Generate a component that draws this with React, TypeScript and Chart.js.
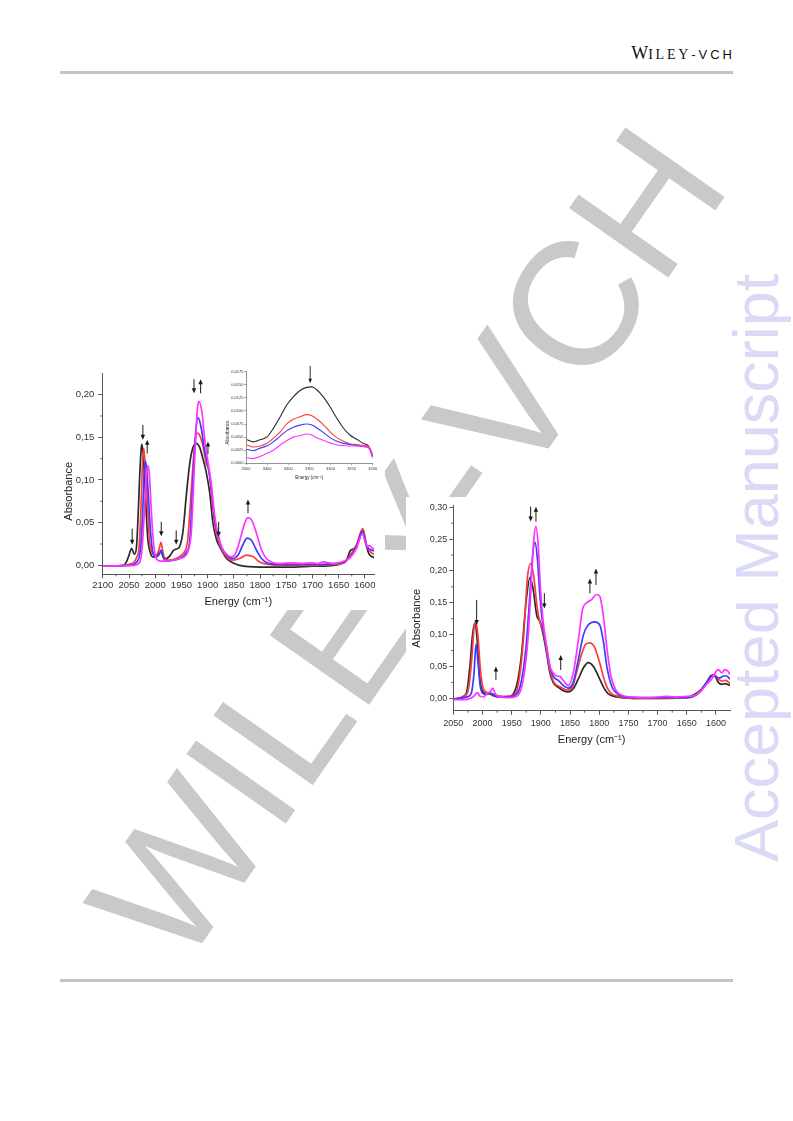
import React, { useEffect, useRef } from "react";
import { Chart, registerables } from "chart.js";
Chart.register(...registerables);

// ---------------- LEFT CHART DATA ----------------
const LEFT_X_TICKS = [2100, 2050, 2000, 1950, 1900, 1850, 1800, 1750, 1700, 1650, 1600];
const LEFT_X_MINOR = [2075, 2025, 1975, 1925, 1875, 1825, 1775, 1725, 1675, 1625];
const LEFT_Y_TICKS = [0, 0.05, 0.1, 0.15, 0.2];
const LEFT_Y_MINOR = [0.025, 0.075, 0.125, 0.175];

const L_BLACK_X = [2100, 2080, 2060, 2055, 2050, 2045, 2040, 2036, 2032.5, 2030, 2027, 2025.5, 2023, 2020, 2017, 2014, 2009.5, 2004.5, 1998, 1993, 1989, 1985, 1979, 1971, 1966, 1960, 1953.5, 1947, 1941, 1934, 1928, 1922, 1915, 1909, 1903, 1896, 1890, 1883, 1877, 1871, 1864, 1852, 1839, 1800, 1750, 1700, 1660, 1645, 1635, 1628, 1620, 1612, 1604, 1598, 1592, 1586, 1582];
const L_BLACK_Y = [-0.001, -0.001, 0.0, 0.004, 0.012, 0.02, 0.013, 0.02, 0.06, 0.1, 0.135, 0.142, 0.13, 0.1, 0.06, 0.03, 0.015, 0.01, 0.01, 0.014, 0.016, 0.01, 0.008, 0.012, 0.017, 0.019, 0.022, 0.04, 0.08, 0.12, 0.138, 0.143, 0.138, 0.125, 0.11, 0.085, 0.05, 0.03, 0.022, 0.015, 0.008, 0.003, 0.0, -0.002, -0.002, -0.001, 0.0, 0.002, 0.006, 0.017, 0.02, 0.028, 0.041, 0.025, 0.013, 0.01, 0.009];

const L_RED_X = [2100, 2060, 2045, 2040, 2035, 2031, 2027, 2025, 2022, 2020, 2017, 2014, 2011, 2006, 1999, 1993, 1989, 1986, 1982, 1973, 1960, 1950, 1941, 1938, 1931, 1925, 1920, 1915, 1909, 1903, 1897, 1893, 1887, 1880, 1874, 1864, 1852, 1839, 1826, 1813, 1801, 1782, 1750, 1700, 1660, 1640, 1628, 1616, 1604, 1596, 1588, 1582];
const L_RED_Y = [-0.001, 0.0, 0.002, 0.004, 0.01, 0.02, 0.07, 0.11, 0.137, 0.125, 0.1, 0.06, 0.03, 0.015, 0.012, 0.018, 0.027, 0.018, 0.008, 0.006, 0.008, 0.012, 0.02, 0.03, 0.09, 0.14, 0.155, 0.152, 0.14, 0.12, 0.11, 0.085, 0.05, 0.03, 0.02, 0.01, 0.006, 0.008, 0.012, 0.01, 0.004, 0.001, 0.0, 0.0, 0.001, 0.003, 0.012, 0.024, 0.043, 0.022, 0.015, 0.013];

const L_BLUE_X = [2100, 2050, 2035, 2028, 2024, 2021, 2018.5, 2016, 2013, 2009, 2004.5, 1998, 1993, 1989, 1985, 1979, 1966, 1953.5, 1941, 1934, 1928, 1923, 1918, 1912, 1906, 1899, 1893, 1887, 1880, 1874, 1864, 1852, 1842, 1832, 1825, 1816, 1807, 1797, 1782, 1750, 1700, 1660, 1640, 1628, 1616, 1605, 1596, 1588, 1582];
const L_BLUE_Y = [-0.001, 0.0, 0.004, 0.02, 0.06, 0.11, 0.122, 0.11, 0.08, 0.04, 0.015, 0.01, 0.012, 0.018, 0.01, 0.005, 0.006, 0.008, 0.015, 0.03, 0.1, 0.155, 0.173, 0.16, 0.135, 0.115, 0.09, 0.055, 0.035, 0.022, 0.012, 0.008, 0.012, 0.025, 0.032, 0.029, 0.018, 0.008, 0.002, 0.001, 0.001, 0.002, 0.004, 0.01, 0.022, 0.04, 0.022, 0.018, 0.017];

const L_MAG_X = [2100, 2040, 2030, 2025, 2021, 2017, 2014, 2011, 2008, 2004.5, 2000, 1995, 1988.5, 1979, 1966, 1953.5, 1941, 1934, 1931, 1925, 1920, 1917, 1911, 1906, 1899, 1893, 1887, 1880, 1874, 1864, 1855, 1846, 1836, 1829, 1823, 1816, 1807, 1797, 1788, 1775, 1760, 1740, 1720, 1700, 1690, 1680, 1660, 1650, 1640, 1628, 1616, 1605, 1596, 1591, 1586, 1582];
const L_MAG_Y = [-0.001, 0.0, 0.003, 0.02, 0.06, 0.105, 0.117, 0.105, 0.07, 0.035, 0.012, 0.006, 0.005, 0.005, 0.006, 0.008, 0.012, 0.025, 0.04, 0.12, 0.18, 0.192, 0.18, 0.15, 0.12, 0.095, 0.06, 0.035, 0.022, 0.013, 0.01, 0.015, 0.035, 0.05, 0.056, 0.053, 0.038, 0.018, 0.008, 0.003, 0.002, 0.003, 0.002, 0.003, 0.002, 0.004, 0.002, 0.003, 0.005, 0.009, 0.02, 0.037, 0.022, 0.023, 0.02, 0.019];

const L_ARROW_X = [2044, 2023.6, 2015.3, 1988.5, 1960, 1926, 1913.4, 1899.4, 1879, 1823];
const L_ARROW_FROM = [0.043, 0.1645, 0.131, 0.051, 0.041, 0.218, 0.2016, 0.1305, 0.051, 0.061];
const L_ARROW_TO = [0.024, 0.147, 0.147, 0.034, 0.024, 0.2016, 0.218, 0.145, 0.0336, 0.077];

// ---------------- INSET DATA ----------------
const INSET_X_TICKS = [3500, 3450, 3400, 3350, 3300, 3250, 3200];
const INSET_Y_TICKS = [0, 0.0025, 0.005, 0.0075, 0.01, 0.0125, 0.015, 0.0175];
const INSET_X = [3498, 3483, 3467, 3451, 3435, 3419, 3404, 3388, 3372, 3356, 3344, 3333, 3317, 3301, 3285, 3269, 3254, 3238, 3222, 3210, 3200];
const INSET_BLACK = [0.0045, 0.0041, 0.0045, 0.005, 0.0067, 0.0089, 0.0111, 0.0127, 0.0139, 0.0145, 0.0146, 0.0141, 0.0127, 0.0108, 0.0086, 0.0067, 0.0054, 0.0046, 0.0038, 0.0033, 0.0013];
const INSET_RED = [0.0035, 0.0031, 0.0033, 0.0038, 0.0048, 0.006, 0.0075, 0.0084, 0.0089, 0.0093, 0.0091, 0.0085, 0.0074, 0.006, 0.0049, 0.0042, 0.0037, 0.0036, 0.0034, 0.0032, 0.0017];
const INSET_BLUE = [0.0027, 0.0024, 0.0029, 0.0033, 0.0041, 0.0052, 0.0062, 0.0069, 0.0073, 0.0075, 0.0073, 0.0068, 0.0059, 0.0049, 0.0042, 0.0038, 0.0036, 0.0034, 0.0032, 0.003, 0.0013];
const INSET_MAG = [0.0011, 0.0009, 0.0013, 0.0019, 0.0025, 0.0035, 0.0043, 0.005, 0.0053, 0.0056, 0.0054, 0.0049, 0.0044, 0.0039, 0.0035, 0.0034, 0.0033, 0.0033, 0.0032, 0.003, 0.001];
const INSET_ARROW_X = [3348];
const INSET_ARROW_FROM = [0.0186];
const INSET_ARROW_TO = [0.0153];

// ---------------- RIGHT CHART DATA ----------------
const RIGHT_X_TICKS = [2050, 2000, 1950, 1900, 1850, 1800, 1750, 1700, 1650, 1600];
const RIGHT_X_MINOR = [2025, 1975, 1925, 1875, 1825, 1775, 1725, 1675, 1625];
const RIGHT_Y_TICKS = [0, 0.05, 0.1, 0.15, 0.2, 0.25, 0.3];
const RIGHT_Y_MINOR = [0.025, 0.075, 0.125, 0.175, 0.225, 0.275];

const R_BLACK_X = [2050, 2033, 2027, 2021.5, 2017, 2013, 2009, 2005.5, 2001.5, 1996, 1987, 1981.5, 1970, 1953, 1941.5, 1933, 1925.5, 1918.5, 1913, 1907, 1901.5, 1896, 1890, 1884.5, 1879, 1870, 1861.5, 1853, 1844.5, 1836, 1827, 1819, 1810, 1801.5, 1793, 1784.5, 1770, 1741.5, 1685, 1650, 1639, 1627.5, 1616, 1607.5, 1602, 1596, 1590, 1585, 1576];
const R_BLACK_Y = [-0.002, 0.003, 0.01, 0.05, 0.1, 0.118, 0.09, 0.04, 0.015, 0.008, 0.007, 0.004, 0.002, 0.003, 0.02, 0.07, 0.15, 0.19, 0.17, 0.13, 0.12, 0.1, 0.07, 0.04, 0.025, 0.017, 0.012, 0.01, 0.015, 0.03, 0.048, 0.056, 0.05, 0.035, 0.018, 0.007, 0.002, 0.0, 0.0, 0.001, 0.005, 0.012, 0.025, 0.036, 0.035, 0.025, 0.022, 0.023, 0.02];

const R_RED_X = [2050, 2030, 2024, 2018.5, 2014.5, 2011, 2008, 2004, 2000, 1994, 1987, 1978.5, 1964, 1947, 1939, 1930, 1923, 1917, 1912, 1906, 1901.5, 1896, 1890, 1884.5, 1877.5, 1867, 1856, 1847, 1839, 1830, 1823, 1816, 1808, 1799, 1790, 1782, 1767.5, 1741.5, 1650, 1633, 1619, 1607.5, 1602, 1596, 1590, 1583, 1576];
const R_RED_Y = [-0.001, 0.004, 0.015, 0.06, 0.11, 0.12, 0.1, 0.05, 0.02, 0.01, 0.008, 0.005, 0.003, 0.005, 0.02, 0.09, 0.19, 0.212, 0.19, 0.14, 0.12, 0.105, 0.075, 0.045, 0.025, 0.018, 0.013, 0.016, 0.04, 0.07, 0.085, 0.087, 0.08, 0.055, 0.025, 0.01, 0.003, 0.0, 0.001, 0.006, 0.02, 0.035, 0.037, 0.03, 0.027, 0.028, 0.023];

const R_BLUE_X = [2050, 2024, 2018.5, 2014.5, 2011, 2008, 2004, 1998.5, 1993, 1987, 1981.5, 1976, 1958.5, 1944, 1935, 1925.5, 1917.5, 1913, 1910, 1906, 1901.5, 1896, 1890, 1884.5, 1879, 1870, 1861.5, 1853, 1844.5, 1836, 1827, 1819, 1808, 1799, 1793, 1787, 1779, 1767.5, 1741.5, 1650, 1639, 1627.5, 1616, 1606, 1599, 1593, 1587.5, 1582, 1576];
const R_BLUE_Y = [-0.001, 0.003, 0.01, 0.04, 0.085, 0.06, 0.02, 0.007, 0.006, 0.008, 0.006, 0.003, 0.002, 0.005, 0.02, 0.08, 0.18, 0.235, 0.245, 0.22, 0.16, 0.11, 0.08, 0.05, 0.035, 0.028, 0.02, 0.016, 0.025, 0.06, 0.1, 0.115, 0.12, 0.115, 0.09, 0.05, 0.02, 0.006, 0.001, 0.001, 0.003, 0.01, 0.025, 0.036, 0.033, 0.032, 0.035, 0.035, 0.03];

const R_MAG_X = [2050, 2030, 2018.5, 2013, 2009, 2004, 1998.5, 1992, 1987, 1982.5, 1978.5, 1973, 1953, 1939, 1930, 1921.5, 1916, 1912, 1908.5, 1904.5, 1900.5, 1896, 1890, 1884.5, 1879, 1873, 1867, 1861.5, 1853, 1844.5, 1836, 1828.5, 1821.5, 1813, 1804.5, 1799, 1793, 1787, 1780, 1771, 1759, 1741.5, 1720, 1700, 1685, 1670, 1650, 1639, 1627.5, 1616, 1607.5, 1600, 1596, 1590, 1585, 1579, 1576];
const R_MAG_Y = [-0.002, -0.002, 0.001, 0.005, 0.009, 0.003, 0.002, 0.008, 0.01, 0.016, 0.008, 0.003, 0.001, 0.005, 0.03, 0.1, 0.19, 0.25, 0.27, 0.24, 0.17, 0.12, 0.08, 0.05, 0.04, 0.035, 0.034, 0.028, 0.02, 0.04, 0.09, 0.14, 0.15, 0.155, 0.163, 0.16, 0.13, 0.08, 0.035, 0.012, 0.004, 0.002, 0.001, 0.002, 0.003, 0.002, 0.003, 0.004, 0.01, 0.022, 0.03, 0.042, 0.045, 0.04, 0.045, 0.042, 0.037];

const R_ARROW_X = [2010, 1977, 1917.5, 1908.4, 1894, 1866, 1816, 1805.6];
const R_ARROW_FROM = [0.1545, 0.029, 0.301, 0.2775, 0.165, 0.0445, 0.165, 0.178];
const R_ARROW_TO = [0.115, 0.05, 0.2775, 0.301, 0.141, 0.068, 0.188, 0.204];

const X_TITLE = "Energy (cm\u207B\u00B9)";
const Y_TITLE = "Absorbance";

// ---------------- STYLE ----------------
const COL_BLACK = "#2a2a2a";
const COL_RED = "#ff3c3c";
const COL_BLUE = "#3c3cff";
const COL_MAG = "#ff33ff";
const FONT = "'Liberation Sans', Arial, sans-serif";

type Spec = {
  series: { xs: number[]; ys: number[]; color: string }[];
  xMin: number; xMax: number; yMin: number; yMax: number;
  xTicks: number[]; yTicks: number[]; xMinor: number[]; yMinor: number[];
  decimals: number; tickFont: number; titleFont: number;
  tickLen: number; minorLen: number; axisColor: string; axisWidth: number;
  padTop: number; padRight: number; yWidth: number; xHeight: number;
  xLabelPad: number; yLabelPad: number; xTitlePad: number;
  yTitleX: number; yTitleShift: number;
  lineWidth: number;
  arrowX: number[]; arrowFrom: number[]; arrowTo: number[];
  headLen: number; headHalf: number; arrowWidth: number;
};

function makeExtras(s: Spec) {
  return {
    id: "extras",
    afterDraw(chart: any) {
      const { ctx, chartArea, scales } = chart;
      const xs = scales.x;
      const ys = scales.y;
      ctx.save();
      // minor ticks
      ctx.strokeStyle = s.axisColor;
      ctx.lineWidth = s.axisWidth;
      ctx.beginPath();
      for (const v of s.xMinor) {
        const px = xs.getPixelForValue(v);
        ctx.moveTo(px, chartArea.bottom);
        ctx.lineTo(px, chartArea.bottom + s.minorLen);
      }
      for (const v of s.yMinor) {
        const py = ys.getPixelForValue(v);
        ctx.moveTo(chartArea.left, py);
        ctx.lineTo(chartArea.left - s.minorLen, py);
      }
      ctx.stroke();
      // y-axis title
      ctx.save();
      ctx.translate(s.yTitleX, (chartArea.top + chartArea.bottom) / 2 + s.yTitleShift);
      ctx.rotate(-Math.PI / 2);
      ctx.fillStyle = "#222";
      ctx.font = `${s.titleFont}px ${FONT}`;
      ctx.textAlign = "center";
      ctx.textBaseline = "middle";
      ctx.fillText(Y_TITLE, 0, 0);
      ctx.restore();
      // arrows
      ctx.strokeStyle = "#1a1a1a";
      ctx.fillStyle = "#1a1a1a";
      ctx.lineWidth = s.arrowWidth;
      s.arrowX.forEach((ax, i) => {
        const px = xs.getPixelForValue(ax);
        const p0 = ys.getPixelForValue(s.arrowFrom[i]);
        const p1 = ys.getPixelForValue(s.arrowTo[i]);
        const dir = p1 > p0 ? 1 : -1;
        ctx.beginPath();
        ctx.moveTo(px, p0);
        ctx.lineTo(px, p1 - dir * s.headLen * 0.6);
        ctx.stroke();
        ctx.beginPath();
        ctx.moveTo(px, p1);
        ctx.lineTo(px - s.headHalf, p1 - dir * s.headLen);
        ctx.lineTo(px + s.headHalf, p1 - dir * s.headLen);
        ctx.closePath();
        ctx.fill();
      });
      ctx.restore();
    },
  };
}

function makeConfig(s: Spec): any {
  const fmtY = (v: any) => Number(v).toFixed(s.decimals).replace(".", ",");
  return {
    type: "line",
    data: {
      datasets: s.series.map((ser) => ({
        data: ser.xs.map((x, i) => ({ x, y: ser.ys[i] })),
        borderColor: ser.color,
        borderWidth: s.lineWidth,
        pointRadius: 0,
        fill: false,
        cubicInterpolationMode: "monotone",
      })),
    },
    options: {
      animation: false,
      responsive: false,
      devicePixelRatio: 1,
      events: [],
      layout: { padding: { top: s.padTop, right: s.padRight, left: 0, bottom: 0 } },
      plugins: { legend: { display: false }, tooltip: { enabled: false } },
      scales: {
        x: {
          type: "linear",
          reverse: true,
          min: s.xMin,
          max: s.xMax,
          afterBuildTicks: (sc: any) => { sc.ticks = s.xTicks.map((v) => ({ value: v })); },
          afterFit: (sc: any) => { sc.height = s.xHeight; },
          grid: { display: true, drawOnChartArea: false, drawTicks: true, tickLength: s.tickLen, color: s.axisColor, lineWidth: s.axisWidth },
          border: { display: true, color: s.axisColor, width: s.axisWidth },
          ticks: { color: "#333", font: { family: FONT, size: s.tickFont }, padding: s.xLabelPad, maxRotation: 0, autoSkip: false, callback: (v: any) => String(v) },
          title: { display: true, text: X_TITLE, color: "#222", font: { family: FONT, size: s.titleFont }, padding: { top: 0, bottom: s.xTitlePad } },
        },
        y: {
          type: "linear",
          min: s.yMin,
          max: s.yMax,
          afterBuildTicks: (sc: any) => { sc.ticks = s.yTicks.map((v) => ({ value: v })); },
          afterFit: (sc: any) => { sc.width = s.yWidth; },
          grid: { display: true, drawOnChartArea: false, drawTicks: true, tickLength: s.tickLen, color: s.axisColor, lineWidth: s.axisWidth },
          border: { display: true, color: s.axisColor, width: s.axisWidth },
          ticks: { color: "#333", font: { family: FONT, size: s.tickFont }, padding: s.yLabelPad, autoSkip: false, callback: fmtY },
          title: { display: false },
        },
      },
    },
    plugins: [makeExtras(s)],
  };
}

const leftSpec: Spec = {
  series: [
    { xs: L_MAG_X, ys: L_MAG_Y, color: COL_MAG },
    { xs: L_BLUE_X, ys: L_BLUE_Y, color: COL_BLUE },
    { xs: L_RED_X, ys: L_RED_Y, color: COL_RED },
    { xs: L_BLACK_X, ys: L_BLACK_Y, color: COL_BLACK },
  ],
  xMin: 1582, xMax: 2101, yMin: -0.0105, yMax: 0.225,
  xTicks: LEFT_X_TICKS, yTicks: LEFT_Y_TICKS, xMinor: LEFT_X_MINOR, yMinor: LEFT_Y_MINOR,
  decimals: 2, tickFont: 9.5, titleFont: 11,
  tickLen: 4, minorLen: 2, axisColor: "#555", axisWidth: 1,
  padTop: 11.3, padRight: 10.7, yWidth: 47.3, xHeight: 35.7,
  xLabelPad: 1, yLabelPad: 4, xTitlePad: 1.5,
  yTitleX: 14.3, yTitleShift: 17.5,
  lineWidth: 1.7,
  arrowX: L_ARROW_X, arrowFrom: L_ARROW_FROM, arrowTo: L_ARROW_TO,
  headLen: 5, headHalf: 2.2, arrowWidth: 1,
};

const insetSpec: Spec = {
  series: [
    { xs: INSET_X, ys: INSET_MAG, color: COL_MAG },
    { xs: INSET_X, ys: INSET_BLUE, color: COL_BLUE },
    { xs: INSET_X, ys: INSET_RED, color: COL_RED },
    { xs: INSET_X, ys: INSET_BLACK, color: COL_BLACK },
  ],
  xMin: 3200, xMax: 3500, yMin: 0, yMax: 0.0175,
  xTicks: INSET_X_TICKS, yTicks: INSET_Y_TICKS, xMinor: [], yMinor: [],
  decimals: 4, tickFont: 4, titleFont: 4.5,
  tickLen: 1.5, minorLen: 1, axisColor: "#666", axisWidth: 0.7,
  padTop: 13.7, padRight: 11.3, yWidth: 24, xHeight: 20.7,
  xLabelPad: 1.5, yLabelPad: 1, xTitlePad: 4,
  yTitleX: 6, yTitleShift: 15,
  lineWidth: 1.1,
  arrowX: INSET_ARROW_X, arrowFrom: INSET_ARROW_FROM, arrowTo: INSET_ARROW_TO,
  headLen: 4.5, headHalf: 1.8, arrowWidth: 0.9,
};

const rightSpec: Spec = {
  series: [
    { xs: R_MAG_X, ys: R_MAG_Y, color: COL_MAG },
    { xs: R_BLUE_X, ys: R_BLUE_Y, color: COL_BLUE },
    { xs: R_RED_X, ys: R_RED_Y, color: COL_RED },
    { xs: R_BLACK_X, ys: R_BLACK_Y, color: COL_BLACK },
  ],
  xMin: 1576, xMax: 2050, yMin: -0.0195, yMax: 0.3036,
  xTicks: RIGHT_X_TICKS, yTicks: RIGHT_Y_TICKS, xMinor: RIGHT_X_MINOR, yMinor: RIGHT_Y_MINOR,
  decimals: 2, tickFont: 9, titleFont: 11,
  tickLen: 4, minorLen: 2, axisColor: "#555", axisWidth: 1,
  padTop: 8, padRight: 6, yWidth: 47.3, xHeight: 41.3,
  xLabelPad: 3, yLabelPad: 2, xTitlePad: 5.5,
  yTitleX: 11.3, yTitleShift: 10.5,
  lineWidth: 1.7,
  arrowX: R_ARROW_X, arrowFrom: R_ARROW_FROM, arrowTo: R_ARROW_TO,
  headLen: 5, headHalf: 2.2, arrowWidth: 1,
};

function ChartBox(props: { spec: Spec; left: number; top: number; width: number; height: number; bg: string }) {
  const ref = useRef<HTMLCanvasElement | null>(null);
  useEffect(() => {
    const chart = new Chart(ref.current as HTMLCanvasElement, makeConfig(props.spec));
    return () => chart.destroy();
  }, []);
  return (
    <canvas
      ref={ref}
      width={props.width}
      height={props.height}
      style={{ position: "absolute", left: props.left, top: props.top, width: props.width, height: props.height, background: props.bg }}
    />
  );
}

export default function App() {
  return (
    <div style={{ position: "absolute", left: 0, top: 0, width: 793, height: 1121, overflow: "hidden", background: "#fff" }}>
      {/* header */}
      <div style={{ position: "absolute", left: 0, top: 43.2, width: 732, textAlign: "right", fontFamily: "'Liberation Serif', serif", fontSize: 18, lineHeight: "20px", color: "#111", whiteSpace: "nowrap" }}>
        <span>W</span>
        <span style={{ fontSize: 14, letterSpacing: 2.8 }}>ILEY</span>
        <span style={{ fontFamily: FONT, fontSize: 13, letterSpacing: 3 }}>-VC</span>
        <span style={{ fontFamily: FONT, fontSize: 13 }}>H</span>
      </div>
      <div style={{ position: "absolute", left: 60, top: 71, width: 673, height: 3, background: "#c4c4c4" }} />
      <div style={{ position: "absolute", left: 60, top: 978.5, width: 673, height: 3, background: "#c4c4c4" }} />

      {/* watermark */}
      <div style={{ position: "absolute", left: 407, top: 544, transform: "translate(-50%, -50%) rotate(-55deg)", fontFamily: FONT, fontWeight: 400, fontSize: 176, lineHeight: 1, color: "#c9c9c9", whiteSpace: "nowrap" }}>
        WILEY-VCH
      </div>
      <div style={{ position: "absolute", left: 725, top: 862, transformOrigin: "0 0", transform: "rotate(-90deg)", fontFamily: FONT, fontSize: 63, lineHeight: 1, color: "#dadaf7", whiteSpace: "nowrap" }}>
        Accepted Manuscript
      </div>

      <ChartBox spec={leftSpec} left={55} top={362} width={330} height={248} bg="#fff" />
      <ChartBox spec={insetSpec} left={222} top={358} width={162} height={126} bg="transparent" />
      <ChartBox spec={rightSpec} left={406} top={497} width={330} height={255} bg="#fff" />
    </div>
  );
}
